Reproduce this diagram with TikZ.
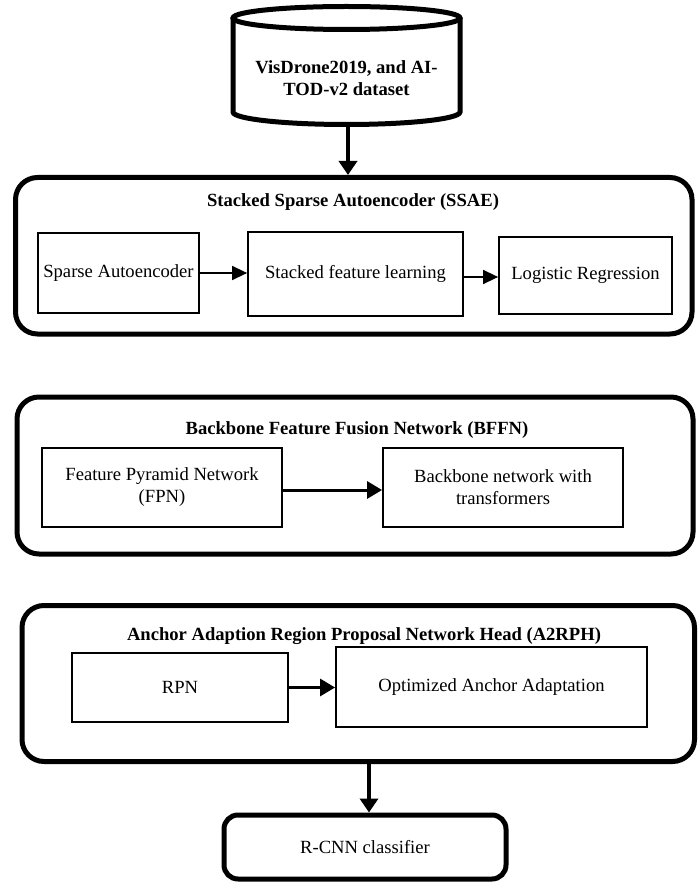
\documentclass[tikz,border=0pt]{standalone}
\usepackage{fontspec}
\setmainfont{Liberation Serif}
\usetikzlibrary{arrows.meta}
\begin{document}
\begin{tikzpicture}[x=1pt,y=1pt,
  every node/.style={font=\fontsize{18.6}{22}\selectfont},
  outerbox/.style={draw,line width=5pt,rounded corners=22pt,minimum width=#1,inner sep=0pt},
  innerbox/.style={draw,line width=1.8pt,inner sep=2pt,align=center},
  titlelbl/.style={font=\fontsize{18.6}{22}\selectfont\bfseries},
  thinarr/.style={line width=1.5pt,-{Triangle[length=15pt,width=14pt]}},
  thickarr/.style={line width=3pt,-{Triangle[length=15pt,width=17pt]}},
  vertarr/.style={line width=3.5pt,-{Triangle[length=14pt,width=18pt]}}
]
\useasboundingbox (0,0) rectangle (697,-882);

% database cylinder
\draw[line width=5pt,fill=white] (233,-18) -- (233,-112)
  arc[start angle=180,end angle=360,x radius=113.5,y radius=12.5]
  -- (460,-18);
\draw[line width=5pt] (346.5,-18) ellipse[x radius=113.5,y radius=11.5];
\node[titlelbl,align=center] (data) at (346.5,-78) {VisDrone2019, and AI-\\TOD-v2 dataset};
\coordinate (dbot) at (348,-127);

% SSAE
\node[outerbox=676.5pt,minimum height=156.5pt] (ssae) at (353.75,-255.75) {};
\node[titlelbl] (ssaet) at (353,-202) {Stacked Sparse Autoencoder (SSAE)};
\node[innerbox,minimum width=161pt,minimum height=80pt] (sparse) at (118.5,-273) {Sparse Autoencoder};
\node[innerbox,minimum width=215pt,minimum height=84pt] (stacked) at (355.5,-274) {Stacked feature learning};
\node[innerbox,minimum width=173pt,minimum height=77pt] (logit) at (585.5,-275.5) {Logistic Regression};

% BFFN
\node[outerbox=676pt,minimum height=157pt] (bffn) at (355,-475.5) {};
\node[titlelbl] (bffnt) at (357,-430) {Backbone Feature Fusion Network (BFFN)};
\node[innerbox,minimum width=240pt,minimum height=79pt] (fpn) at (162,-487.5) {Feature Pyramid Network\\(FPN)};
\node[innerbox,minimum width=240pt,minimum height=79pt] (bbone) at (503,-487.5) {Backbone network with\\transformers};

% A2RPH
\node[outerbox=672.5pt,minimum height=156pt] (arph) at (358.25,-683.5) {};
\node[titlelbl] (arpht) at (364,-636) {Anchor Adaption Region Proposal Network Head (A2RPH)};
\node[innerbox,minimum width=216pt,minimum height=69pt] (rpn) at (180,-687.5) {RPN};
\node[innerbox,minimum width=311pt,minimum height=80pt] (opt) at (491.5,-687) {Optimized Anchor Adaptation};

% R-CNN
\node[draw,line width=5pt,rounded corners=14pt,minimum width=282pt,minimum height=64pt,inner sep=0pt] (rcnn) at (365,-847) {R-CNN classifier};

% connectors
\draw[vertarr] (dbot) -- (dbot |- ssae.north);
\draw[thinarr] (sparse.east) -- (sparse.east -| stacked.west);
\draw[thinarr] ([yshift=-3pt]stacked.east) -- ([yshift=-3pt]stacked.east -| logit.west);
\draw[thickarr] ([yshift=-2.5pt]fpn.east) -- ([yshift=-2.5pt]bbone.west);
\draw[thickarr] (rpn.east) -- (rpn.east -| opt.west);
\draw[vertarr] ([xshift=4pt]rcnn.north |- arph.south) -- ([xshift=4pt]rcnn.north);
\end{tikzpicture}
\end{document}
